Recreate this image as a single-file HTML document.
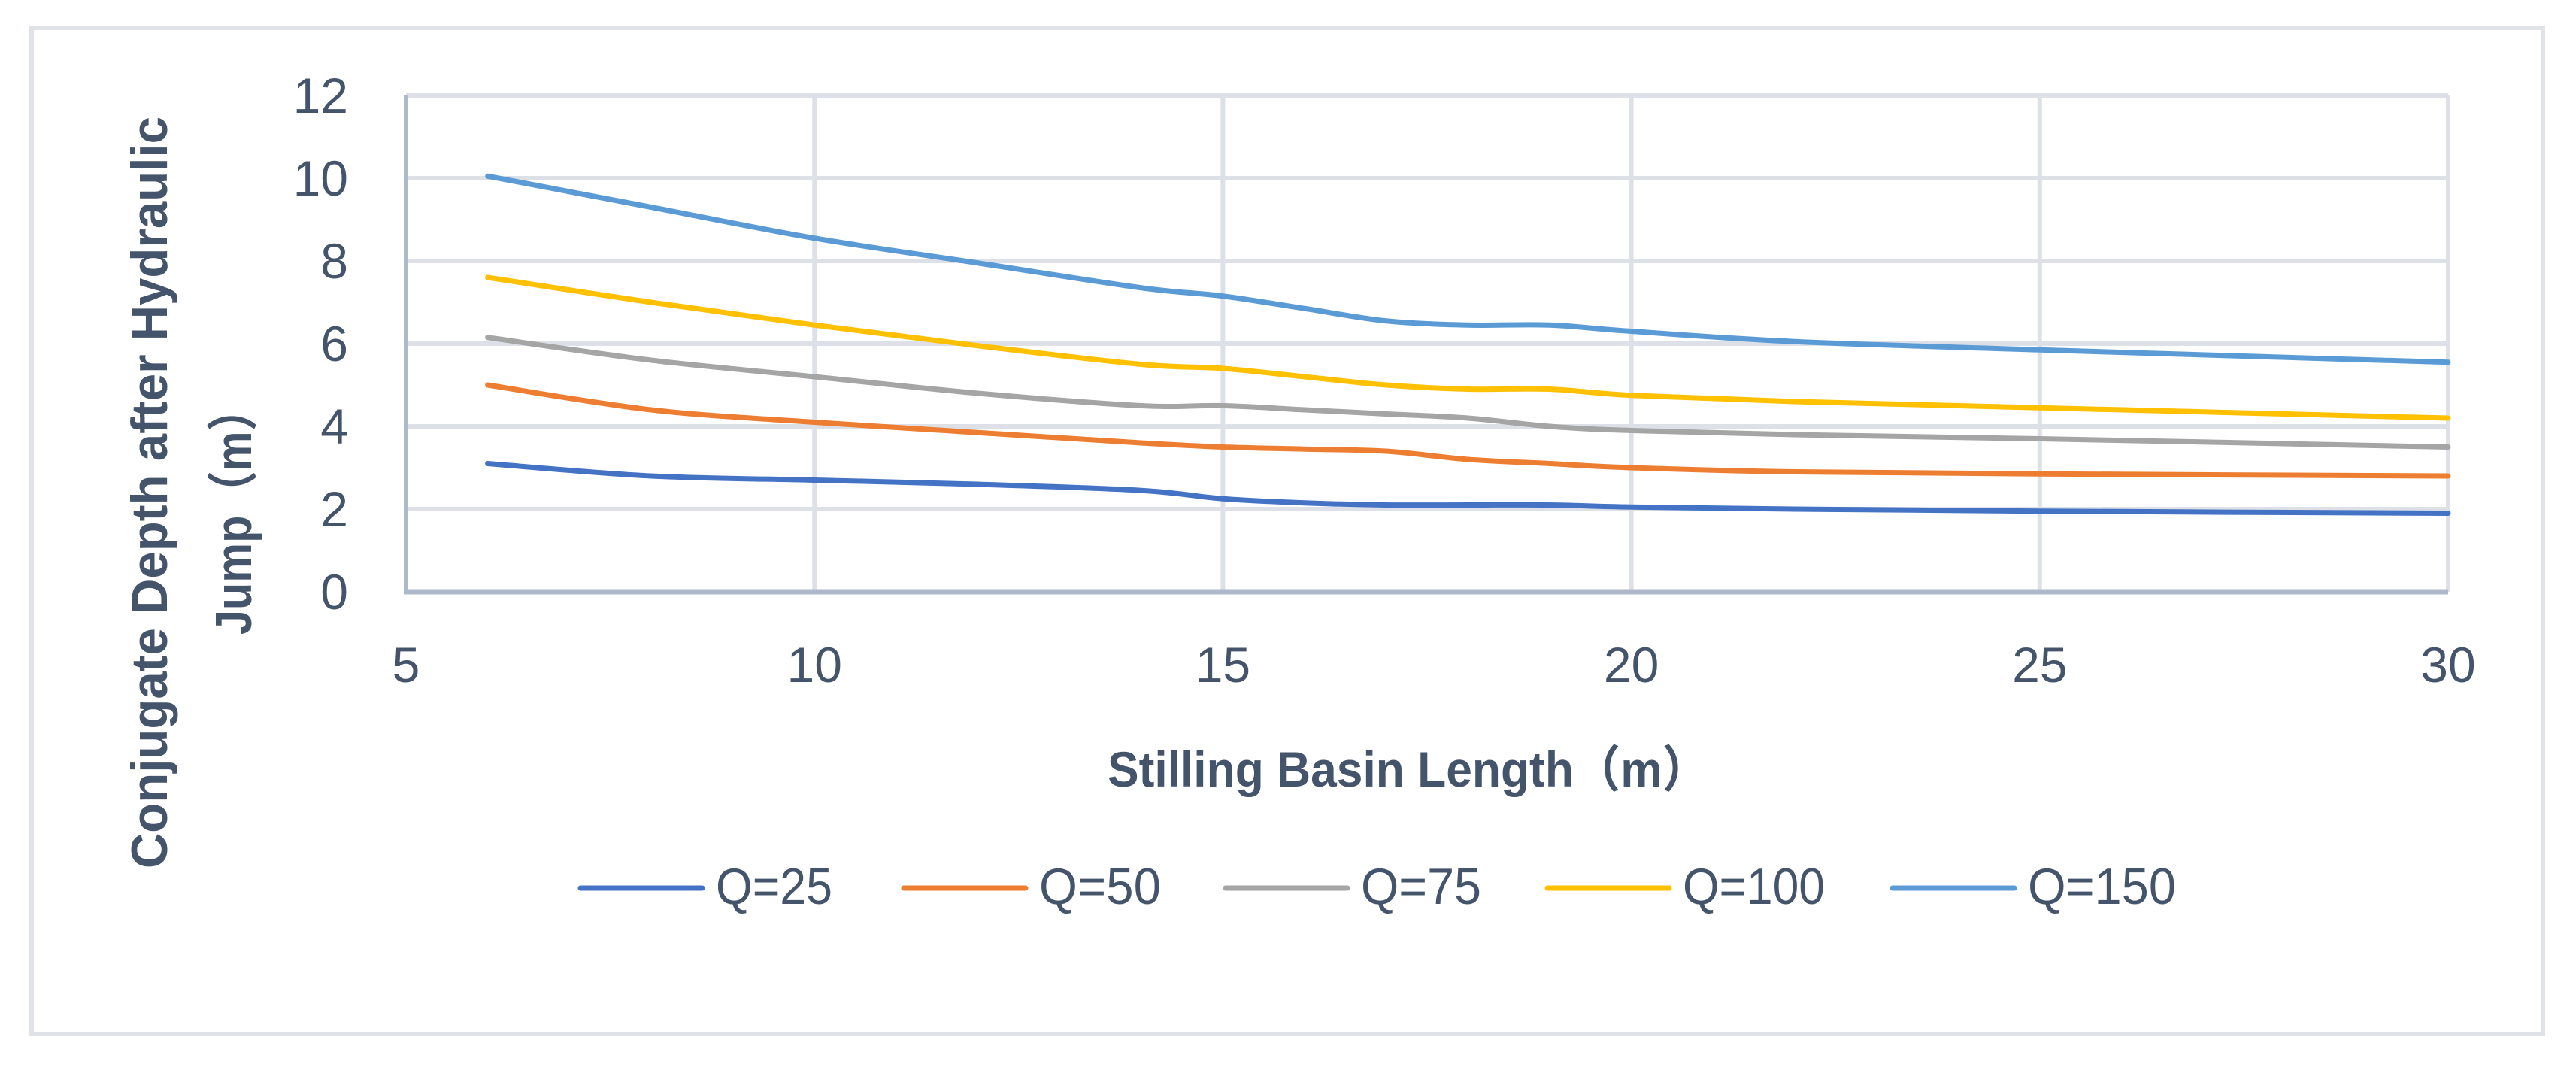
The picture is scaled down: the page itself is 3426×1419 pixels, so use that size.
<!DOCTYPE html>
<html><head><meta charset="utf-8"><style>
html,body{margin:0;padding:0;background:#fff}
svg{display:block}
text{font-family:"Liberation Sans","Noto Sans CJK SC",sans-serif;fill:#44546a}
</style></head><body>
<svg id="chart" width="3426" height="1419" viewBox="0 0 3426 1419" xmlns="http://www.w3.org/2000/svg">
<rect x="42" y="37" width="3340" height="1338" fill="#fff" stroke="#dfe3e8" stroke-width="6"/>
<g id="grid"></g><g id="series"></g><g id="axes"></g><g id="legend"></g>
<text transform="translate(222,655) rotate(-90)" text-anchor="middle" font-size="68" font-weight="bold" textLength="1000" lengthAdjust="spacingAndGlyphs">Conjugate Depth after Hydraulic</text>
<text transform="translate(334,679) rotate(-90)" text-anchor="middle" font-size="68" font-weight="bold" textLength="330" lengthAdjust="spacingAndGlyphs">Jump（m）</text>
<text x="1873" y="1046" text-anchor="middle" font-size="66" font-weight="bold" textLength="800" lengthAdjust="spacingAndGlyphs">Stilling Basin Length（m）</text>
</svg>
<script>
const xValues=[6,8,10,12,14,15,16,17,18,19,20,22,25,30];
const q25=[3.1,2.8,2.7,2.6,2.45,2.25,2.15,2.1,2.1,2.1,2.05,2.0,1.95,1.9];
const q50=[5.0,4.4,4.1,3.85,3.6,3.5,3.45,3.4,3.2,3.1,3.0,2.9,2.85,2.8];
const q75=[6.15,5.6,5.2,4.8,4.5,4.5,4.4,4.3,4.2,4.0,3.9,3.8,3.7,3.5];
const q100=[7.6,7.0,6.45,5.95,5.5,5.4,5.2,5.0,4.9,4.9,4.75,4.6,4.45,4.2];
const q150=[10.05,9.3,8.55,7.95,7.35,7.15,6.85,6.55,6.45,6.45,6.3,6.05,5.85,5.55];
const seriesNames=["Q=25","Q=50","Q=75","Q=100","Q=150"];
const xTicks=[5,10,15,20,25,30];
const yTicks=[0,2,4,6,8,10,12];
const NS="http://www.w3.org/2000/svg";
const L=540,R=3256,T=127,B=787;
const sx=v=>L+(v-5)/25*(R-L);
const sy=v=>B-v/12*(B-T);
function mk(tag,attrs,parent){const e=document.createElementNS(NS,tag);for(const k in attrs)e.setAttribute(k,attrs[k]);parent.appendChild(e);return e;}
const grid=document.getElementById('grid'),axes=document.getElementById('axes'),ser=document.getElementById('series'),leg=document.getElementById('legend');
yTicks.forEach(t=>{
 if(t>0){const g=mk('line',{x1:L,x2:R,y1:sy(t),y2:sy(t),stroke:'#dde1e7','stroke-width':6},grid);
 
 }
 const tx=mk('text',{x:463,y:sy(t)+23,'text-anchor':'end','font-size':66},axes);tx.textContent=t;
 
 
});
xTicks.forEach(t=>{
 if(t>5){const g=mk('line',{x1:sx(t),x2:sx(t),y1:T,y2:B,stroke:'#dde1e7','stroke-width':6},grid);
 
 }
 const tx=mk('text',{x:sx(t),y:907,'text-anchor':'middle','font-size':66},axes);tx.textContent=t;
 
 
});
const ax1=mk('line',{x1:L,x2:L,y1:T,y2:B,stroke:'#adb9ca','stroke-width':6},axes);


const ax2=mk('line',{x1:L-3,x2:R,y1:B,y2:B,stroke:'#adb9ca','stroke-width':7},axes);


const colors=['#4472c4','#ed7d31','#a5a5a5','#ffc000','#5b9bd5'];
function smooth(pts){let d=`M${pts[0][0]},${pts[0][1]}`;for(let i=0;i<pts.length-1;i++){const p0=pts[Math.max(0,i-1)],p1=pts[i],p2=pts[i+1],p3=pts[Math.min(pts.length-1,i+2)];const c1=[p1[0]+(p2[0]-p0[0])/6,p1[1]+(p2[1]-p0[1])/6],c2=[p2[0]-(p3[0]-p1[0])/6,p2[1]-(p3[1]-p1[1])/6];d+=` C${c1[0]},${c1[1]} ${c2[0]},${c2[1]} ${p2[0]},${p2[1]}`;}return d;}
[q25,q50,q75,q100,q150].forEach((s,i)=>{
 const p=mk('path',{d:smooth(xValues.map((x,j)=>[sx(x),sy(s[j])])),fill:'none',stroke:colors[i],'stroke-width':7,'stroke-linecap':'round'},ser);
 
 
});
const legX=[772,1202,1630,2058,2517];
const legTextLen=[155,162,160,189,197];
seriesNames.forEach((n,i)=>{
 const g=mk('g',{},leg);
 
 
 mk('line',{x1:legX[i],x2:legX[i]+162,y1:1181,y2:1181,stroke:colors[i],'stroke-width':7,'stroke-linecap':'round'},g);
 const t=mk('text',{x:legX[i]+180,y:1202,'font-size':68,textLength:legTextLen[i],lengthAdjust:'spacingAndGlyphs'},g);t.textContent=n;
});
</script>
</body></html>
